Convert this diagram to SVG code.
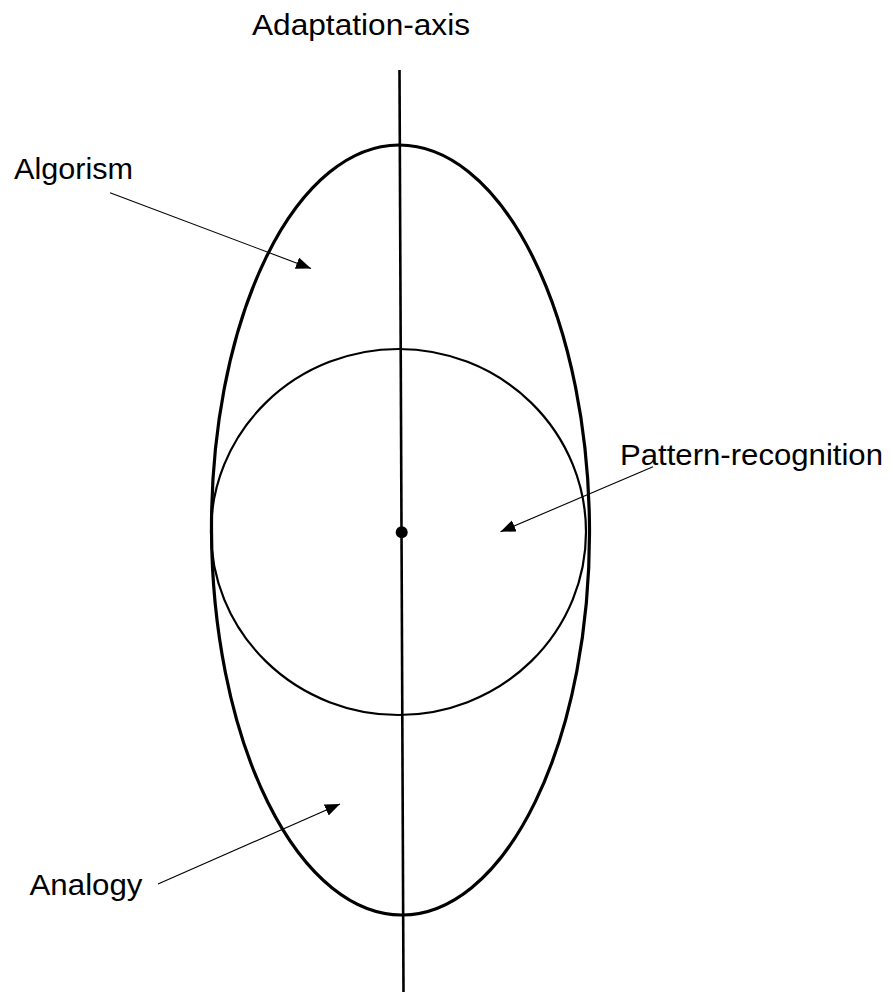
<svg xmlns="http://www.w3.org/2000/svg" width="892" height="992" viewBox="0 0 892 992">
<style>
.lbl{font-family:"Liberation Sans",Arial,Helvetica,sans-serif;font-size:29px;fill:#000}
.arw{stroke:#000;stroke-width:1.1;fill:none;marker-end:url(#ah)}
</style>
<defs>
<marker id="ah" markerUnits="userSpaceOnUse" markerWidth="16" markerHeight="14" refX="15" refY="6" orient="auto">
<path d="M0,0 L15,6 L0,12 Z" fill="#000"/>
</marker>
</defs>
<rect width="892" height="992" fill="#fff"/>
<g id="axis">
<line x1="399.5" y1="70" x2="403.5" y2="992" stroke="#000" stroke-width="2.6"/>
</g>
<g id="algorism-ellipse">
<ellipse cx="400.5" cy="530" rx="189" ry="385" fill="none" stroke="#000" stroke-width="3.2" transform="rotate(-0.25 400.5 530)"/>
</g>
<g id="pattern-circle">
<ellipse cx="398.5" cy="532" rx="187.5" ry="183" fill="none" stroke="#000" stroke-width="2.2"/>
</g>
<g id="center-dot">
<circle cx="401.7" cy="532.3" r="6" fill="#000"/>
</g>
<g id="title">
<text class="lbl" x="252" y="35" textLength="218" lengthAdjust="spacingAndGlyphs">Adaptation-axis</text>
</g>
<g id="label-algorism">
<text class="lbl" x="14" y="178.5" textLength="119" lengthAdjust="spacingAndGlyphs">Algorism</text>
</g>
<g id="label-pattern">
<text class="lbl" x="620" y="464.5" textLength="263" lengthAdjust="spacingAndGlyphs">Pattern-recognition</text>
</g>
<g id="label-analogy">
<text class="lbl" x="29.5" y="895" textLength="113" lengthAdjust="spacingAndGlyphs">Analogy</text>
</g>
<g id="connectors">
<line class="arw" x1="110" y1="192.7" x2="311" y2="268.5"/>
<line class="arw" x1="653" y1="466.7" x2="500.5" y2="531.8"/>
<line class="arw" x1="158" y1="884" x2="340" y2="804"/>
</g>
</svg>
